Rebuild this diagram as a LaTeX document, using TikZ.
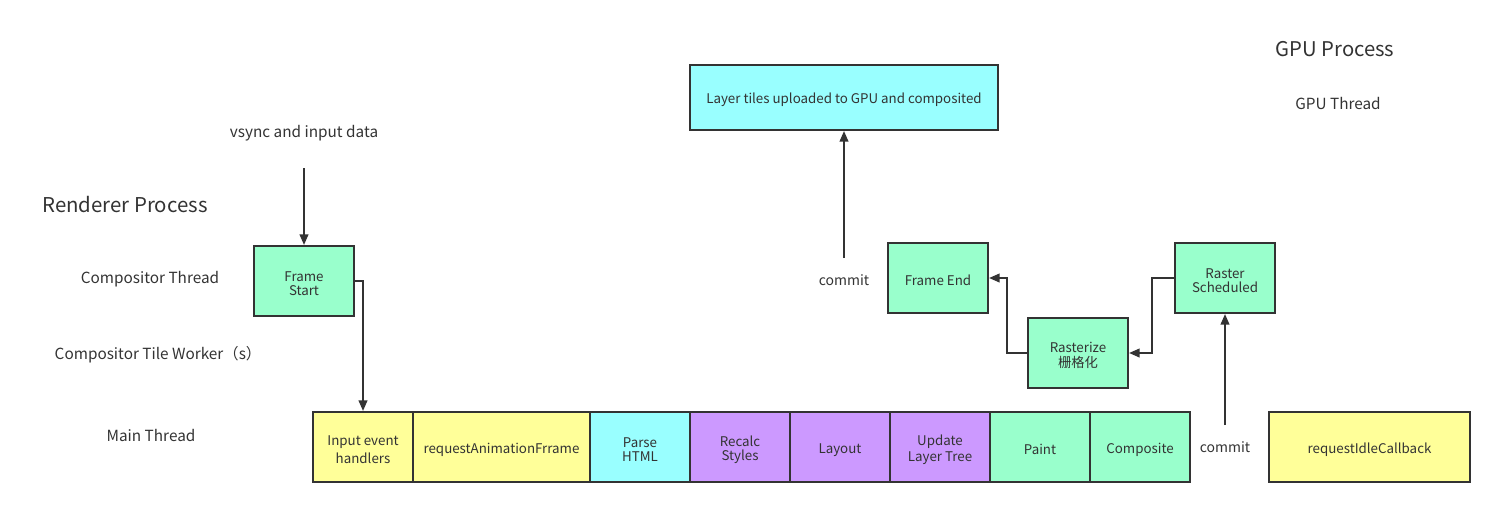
\documentclass[tikz,border=0pt]{standalone}
\usepackage{fontspec}
\setmainfont{Noto Sans CJK SC}
\usetikzlibrary{arrows.meta}
\definecolor{tx}{HTML}{333333}
\definecolor{cgreen}{HTML}{99FFCC}
\definecolor{cyellow}{HTML}{FFFF99}
\definecolor{ccyan}{HTML}{99FFFF}
\definecolor{cpurple}{HTML}{CC99FF}
\newcommand{\lowr}[1]{\raisebox{-2pt}[\height][\depth]{\shortstack{#1}}}
\tikzset{
  px/.style={x=0.75pt,y=-0.75pt},
  box/.style={draw=tx,line width=1.5pt,text=tx,font=\fontsize{10}{12}\selectfont,align=center,inner sep=0pt,anchor=center},
  sbox/.style={box,minimum width=75pt,minimum height=52.5pt},
  lbl/.style={text=tx,inner sep=0pt,align=center},
  conn/.style={draw=tx,line width=1.5pt,-{Triangle[length=8pt,width=6.5pt]}}
}
\begin{document}
\begin{tikzpicture}[px]
\useasboundingbox (0,0) rectangle (1494,507);
% labels
\node[lbl,font=\fontsize{15.3}{18}\selectfont] (rp) at (125,205) {Renderer Process};
\node[lbl,font=\fontsize{11.5}{14}\selectfont] (ct) at (150,279) {Compositor Thread};
\node[lbl,font=\fontsize{11.5}{14}\selectfont] (ctw) at (158,355) {Compositor Tile Worker（s）};
\node[lbl,font=\fontsize{11.5}{14}\selectfont] (mt) at (151,435) {Main Thread};
\node[lbl,font=\fontsize{15.2}{18}\selectfont] (gp) at (1335,49) {GPU Process};
\node[lbl,font=\fontsize{11.5}{14}\selectfont] (gt) at (1338,103) {GPU Thread};
\node[lbl,font=\fontsize{11.5}{14}\selectfont] (vs) at (304,133) {vsync and input data};
\coordinate (vsb) at (304,168);
\node[lbl,font=\fontsize{10.5}{12}\selectfont] (cm1) at (844,280) {commit};
\coordinate (cm1t) at (844,258);
\node[lbl,font=\fontsize{10.5}{12}\selectfont] (cm2) at (1225,447) {commit};
\coordinate (cm2t) at (1225,425);
% boxes
\node[box,fill=ccyan,minimum width=231pt,minimum height=48.75pt] (lt) at (844,97.5) {\lowr{Layer tiles uploaded to GPU and composited}};
\node[sbox,fill=cgreen] (fs) at (304,281) {\lowr{Frame\\Start}};
\node[sbox,fill=cgreen] (fe) at (938,278) {\lowr{Frame End}};
\node[sbox,fill=cgreen] (rz) at (1078,353) {\lowr{Rasterize\\栅格化}};
\node[sbox,fill=cgreen] (rs) at (1225,278) {\lowr{Raster\\Scheduled}};
% main thread row
\node[sbox,fill=cyellow] (ie) at (363,447) {\lowr{Input event\\handlers}};
\node[box,fill=cyellow,minimum width=132.75pt,minimum height=52.5pt] (raf) at (501.5,447) {\lowr{requestAnimationFrrame}};
\node[sbox,fill=ccyan] (ph) at (640,447) {\lowr{Parse\\HTML}};
\node[sbox,fill=cpurple] (rcs) at (740,447) {\lowr{Recalc\\Styles}};
\node[sbox,fill=cpurple] (lay) at (840,447) {\lowr{Layout}};
\node[sbox,fill=cpurple] (ult) at (940,447) {\lowr{Update\\Layer Tree}};
\node[sbox,fill=cgreen] (pt) at (1040,447) {\lowr{Paint}};
\node[sbox,fill=cgreen] (cp) at (1140,447) {\lowr{Composite}};
\node[box,fill=cyellow,minimum width=150.75pt,minimum height=52.5pt] (ric) at (1369.5,447) {\lowr{requestIdleCallback}};
% connectors
\draw[conn] (vsb) -- (fs.north);
\draw[conn] (fs.east) -| (ie.north);
\draw[conn] (cm1t) -- (lt.south);
\draw[conn] (rz.west) -- (1007,353) |- (fe.east);
\draw[conn] (rs.west) -- (1152,278) |- (rz.east);
\draw[conn] (cm2t) -- (rs.south);
\end{tikzpicture}
\end{document}
